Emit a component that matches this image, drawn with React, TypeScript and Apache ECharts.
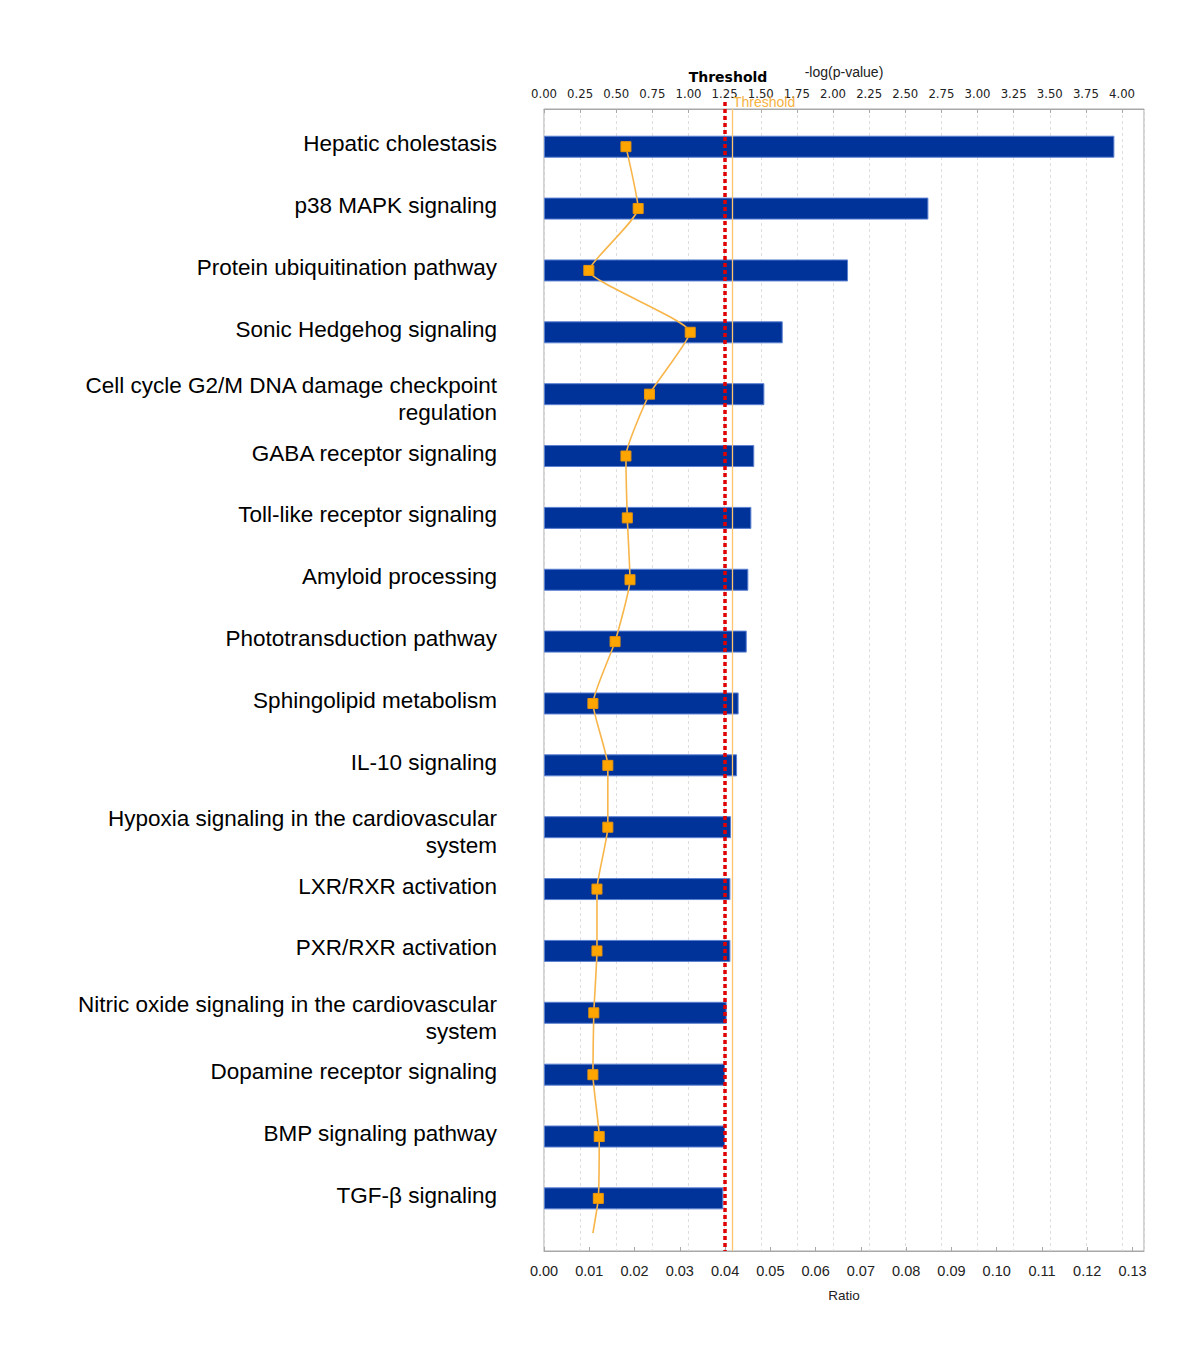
import React, { useEffect, useRef } from "react";
import * as echarts from "echarts";

const categories = [
  "Hepatic cholestasis",
  "p38 MAPK signaling",
  "Protein ubiquitination pathway",
  "Sonic Hedgehog signaling",
  "Cell cycle G2/M DNA damage checkpoint\nregulation",
  "GABA receptor signaling",
  "Toll-like receptor signaling",
  "Amyloid processing",
  "Phototransduction pathway",
  "Sphingolipid metabolism",
  "IL-10 signaling",
  "Hypoxia signaling in the cardiovascular\nsystem",
  "LXR/RXR activation",
  "PXR/RXR activation",
  "Nitric oxide signaling in the cardiovascular\nsystem",
  "Dopamine receptor signaling",
  "BMP signaling pathway",
  "TGF-β signaling",
];

// -log(p-value) per pathway (top axis)
const negLogP = [
  3.947, 2.66, 2.104, 1.652, 1.525, 1.455, 1.435, 1.414, 1.403, 1.347, 1.336,
  1.294, 1.29, 1.29, 1.264, 1.253, 1.253, 1.241,
];

// Ratio per pathway (bottom axis)
const ratio = [
  0.0181, 0.0208, 0.0099, 0.0323, 0.0233, 0.0181, 0.0184, 0.019, 0.0157,
  0.0108, 0.0141, 0.0141, 0.0117, 0.0117, 0.011, 0.0108, 0.0122, 0.012,
];

// trailing end of the ratio line below the last row: [ratio, row position]
const ratioTail = [0.0108, 17.56];

const topAxisMax = 4.152;
const ratioAxisMax = 0.13254;
const thresholdRed = 1.25;
const thresholdOrange = 1.301;

export default function App() {
  const ref = useRef<HTMLDivElement>(null);

  useEffect(() => {
    document.body.style.margin = "0";
    if (!ref.current) return;
    const chart = echarts.init(ref.current, undefined, { renderer: "svg" });

    const lineData: any[] = ratio.map((r, i) => [r, i]);
    lineData.push({ value: ratioTail, symbol: "none" });

    const narrow = "'Liberation Sans Narrow', 'DejaVu Sans Condensed', sans-serif";
    const sans = "'Liberation Sans', Arial, sans-serif";
    const labelFont = { fontSize: 22.5, lineHeight: 27, color: "#000", fontFamily: sans };

    chart.setOption({
      animation: false,
      backgroundColor: "#ffffff",
      grid: [
        { left: 544, top: 115.8, width: 600, height: 1113.5, show: false },
        {
          left: 544,
          top: 109,
          width: 600,
          height: 1142,
          show: true,
          borderColor: "#a8a8a8",
          borderWidth: 1,
          backgroundColor: "transparent",
        },
      ],
      xAxis: [
        { gridIndex: 0, type: "value", min: 0, max: topAxisMax, show: false },
        {
          gridIndex: 1,
          type: "value",
          position: "top",
          min: 0,
          max: topAxisMax,
          interval: 0.25,
          name: "-log(p-value)",
          nameLocation: "middle",
          nameGap: 30,
          nameTextStyle: { fontSize: 14, color: "#222", fontFamily: sans },
          axisLine: { show: true, onZero: false, lineStyle: { color: "#a8a8a8" } },
          axisTick: { show: true, inside: true, length: 4, lineStyle: { color: "#a8a8a8" } },
          axisLabel: {
            formatter: (v: number) => v.toFixed(2),
            showMaxLabel: false,
            margin: 9,
            fontSize: 13,
            color: "#222",
            fontFamily: narrow,
          },
          splitLine: { show: true, lineStyle: { type: [3, 3], color: "#dedede" } },
        },
        {
          gridIndex: 1,
          type: "value",
          position: "bottom",
          min: 0,
          max: ratioAxisMax,
          interval: 0.01,
          name: "Ratio",
          nameLocation: "middle",
          nameGap: 37,
          nameTextStyle: { fontSize: 13.5, color: "#222", fontFamily: sans },
          axisLine: { show: true, onZero: false, lineStyle: { color: "#a8a8a8" } },
          axisTick: { show: true, inside: true, length: 4, lineStyle: { color: "#a8a8a8" } },
          axisLabel: {
            formatter: (v: number) => v.toFixed(2),
            showMaxLabel: false,
            margin: 12,
            fontSize: 14.5,
            color: "#222",
            fontFamily: sans,
          },
          splitLine: { show: false },
        },
      ],
      yAxis: [
        {
          gridIndex: 0,
          type: "category",
          data: categories,
          inverse: true,
          axisLine: { show: false },
          axisTick: { show: false },
          splitLine: { show: false },
          axisLabel: {
            margin: 47,
            ...labelFont,
            interval: 0,
            formatter: (v: string) => {
              if (!v.includes("\n")) return `{t|${v}}\n{sb| }`;
              const parts = v.split("\n");
              return `{sp| }\n{t|${parts[0]}}\n{t|${parts[1]}}`;
            },
            rich: {
              t: { ...labelFont },
              sp: { fontSize: 1, lineHeight: 10, fontFamily: sans },
              sb: { fontSize: 1, lineHeight: 6, fontFamily: sans },
            },
          },
        },
        {
          gridIndex: 1,
          type: "value",
          min: -0.609,
          max: 17.85,
          inverse: true,
          show: false,
        },
      ],
      series: [
        {
          type: "bar",
          xAxisIndex: 0,
          yAxisIndex: 0,
          data: negLogP,
          barWidth: 22,
          itemStyle: { color: "#003399", borderColor: "#5b80d2", borderWidth: 1 },
          z: 2,
        },
        {
          type: "scatter",
          xAxisIndex: 1,
          yAxisIndex: 1,
          data: [],
          z: 4,
          markLine: {
            silent: true,
            symbol: "none",
            label: { show: false },
            data: [
              { xAxis: thresholdOrange, lineStyle: { color: "#FFC470", width: 1.3, type: "solid" } },
              { xAxis: thresholdRed, lineStyle: { color: "#e00000", width: 3.5, type: [4, 3] } },
            ],
          },
        },
        {
          type: "line",
          xAxisIndex: 2,
          yAxisIndex: 1,
          data: lineData,
          smooth: 0.15,
          clip: false,
          symbol: "rect",
          symbolSize: 10,
          itemStyle: { color: "#FFA500", borderColor: "#E8950A", borderWidth: 1 },
          lineStyle: { color: "#F8B54A", width: 1.6 },
          z: 5,
        },
      ],
      graphic: [
        {
          type: "text",
          x: 728,
          y: 77,
          style: {
            text: "Threshold",
            align: "center",
            verticalAlign: "middle",
            font: "bold 14px 'DejaVu Sans', sans-serif",
            fill: "#000",
          },
        },
        {
          type: "line",
          z: 4,
          shape: { x1: 725, y1: 102, x2: 725, y2: 109 },
          style: { stroke: "#e00000", lineWidth: 3.5, lineDash: [4, 3] },
        },
        {
          type: "text",
          x: 733,
          y: 101.5,
          z: 10,
          style: {
            text: "Threshold",
            align: "left",
            verticalAlign: "middle",
            font: "14px 'Liberation Sans', Arial, sans-serif",
            fill: "#F7B13F",
          },
        },
      ],
    });

    return () => chart.dispose();
  }, []);

  return <div ref={ref} style={{ width: 1200, height: 1363 }} />;
}
